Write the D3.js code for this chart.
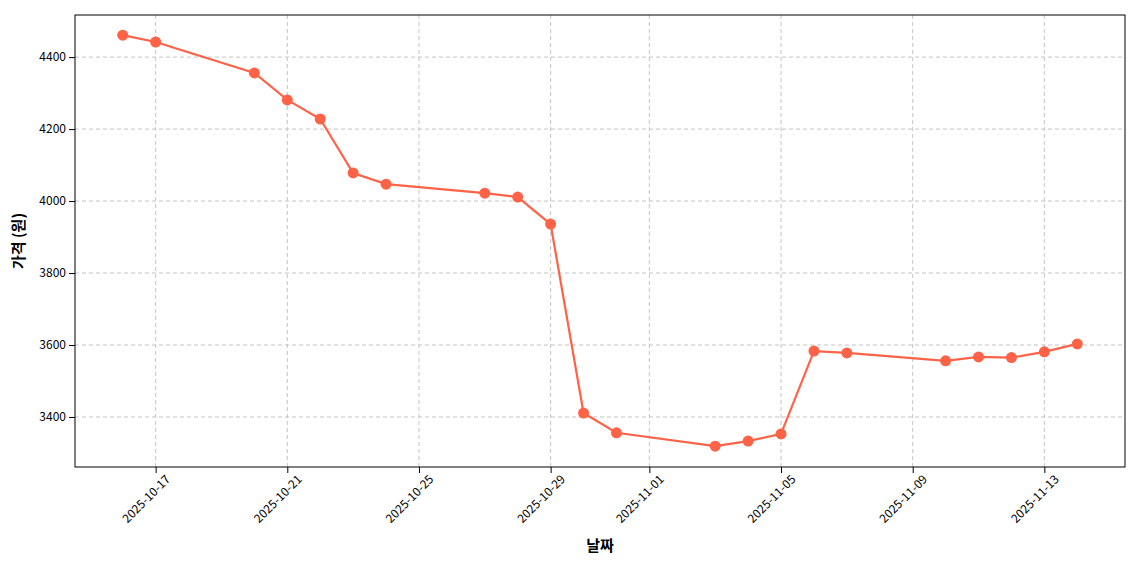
<!DOCTYPE html>
<html><head><meta charset="utf-8">
<script src="https://cdn.jsdelivr.net/npm/d3@7"></script>
<style>body{margin:0;background:#fff;font-family:"Noto Sans CJK KR","Noto Sans",sans-serif}</style>
</head><body><svg id="c" width="1140" height="570"></svg>
<script>
var dates = ["2025-10-16","2025-10-17","2025-10-20","2025-10-21","2025-10-22","2025-10-23","2025-10-24",
  "2025-10-27","2025-10-28","2025-10-29","2025-10-30","2025-10-31","2025-11-03","2025-11-04","2025-11-05",
  "2025-11-06","2025-11-07","2025-11-10","2025-11-11","2025-11-12","2025-11-13","2025-11-14"];
var prices = [4461,4442,4356,4281,4228,4078,4047,4022,4011,3936,3411,3356,3319,3333,3353,3583,3578,3556,3567,3565,3581,3603];
var yTicks = [3400,3600,3800,4000,4200,4400];
var xTickDates = ["2025-10-17","2025-10-21","2025-10-25","2025-10-29","2025-11-01","2025-11-05","2025-11-09","2025-11-13"];

var parse = d3.utcParse("%Y-%m-%d");
var data = dates.map(function(d,i){ return {date: parse(d), v: prices[i]}; });
var svg = d3.select("#c");
var L = 75, R = 1125, T = 15, B = 467;
var font = '"Noto Sans CJK KR","Noto Sans",sans-serif';

var t0 = data[0].date, t1 = data[data.length-1].date, pad = (t1 - t0) * 0.05;
var x = d3.scaleUtc().domain([new Date(+t0 - pad), new Date(+t1 + pad)]).range([L, R]);
var y = d3.scaleLinear().domain([3261, 4517]).range([B, T]);

//grid
var g = svg.append("g");
xTickDates.forEach(function(d){
  g.append("line").attr("x1", x(parse(d))).attr("x2", x(parse(d))).attr("y1", T).attr("y2", B)
   .attr("stroke", "#c4c4c4").attr("stroke-dasharray", "4,3");
});
yTicks.forEach(function(v){
  g.append("line").attr("x1", L).attr("x2", R).attr("y1", y(v)).attr("y2", y(v))
   .attr("stroke", "#c4c4c4").attr("stroke-dasharray", "4,3");
});

var xa = svg.append("g").attr("transform", "translate(0," + B + ")")
  .call(d3.axisBottom(x).tickValues(xTickDates.map(parse)).tickFormat(d3.utcFormat("%Y-%m-%d")).tickSizeOuter(0));
xa.selectAll("text").attr("transform", "rotate(-45)").style("text-anchor", "end")
  .attr("dx", "0.1em").attr("dy", "0.9em").style("font-size", "12px").style("font-family", font).style("fill", "#000");
var ya = svg.append("g").attr("transform", "translate(" + L + ",0)")
  .call(d3.axisLeft(y).tickValues(yTicks).tickFormat(d3.format("d")).tickSizeOuter(0));
ya.selectAll("text").style("font-size", "12px").style("font-family", font).style("fill", "#000");
svg.selectAll(".domain").remove();
svg.append("rect").attr("x", L).attr("y", T).attr("width", R - L).attr("height", B - T)
  .attr("fill", "none").attr("stroke", "#000");

var line = d3.line().x(function(d){ return x(d.date); }).y(function(d){ return y(d.v); });
svg.append("path").datum(data).attr("d", line).attr("fill", "none").attr("stroke", "#ff6347").attr("stroke-width", 2.2);
svg.selectAll("circle").data(data).enter().append("circle")
  .attr("cx", function(d){ return x(d.date); }).attr("cy", function(d){ return y(d.v); })
  .attr("r", 5.5).attr("fill", "#ff6347");

svg.append("text").attr("x", (L + R) / 2).attr("y", 551).attr("text-anchor", "middle")
  .style("font-size", "15px").style("font-weight", "bold").text("날짜");
svg.append("text").attr("transform", "translate(24," + ((T + B) / 2) + ") rotate(-90)").attr("text-anchor", "middle")
  .style("font-size", "15px").style("font-weight", "bold").text("가격 (원)");
</script></body></html>
